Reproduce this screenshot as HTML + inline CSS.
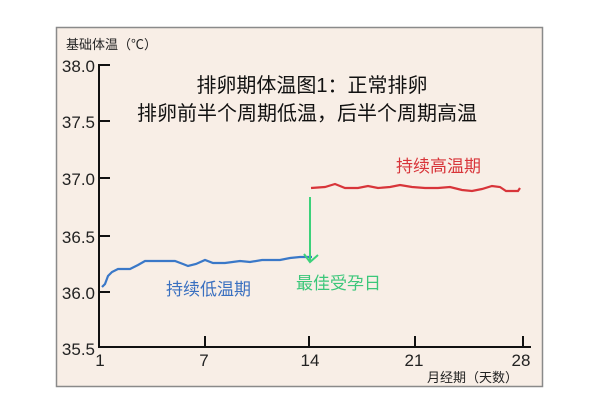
<!DOCTYPE html>
<html><head><meta charset="utf-8"><style>
body{margin:0;background:#fff;}
svg{display:block}
text{font-family:"Liberation Sans","Noto Sans CJK SC",sans-serif;}
</style></head><body>
<svg width="600" height="400" viewBox="0 0 600 400">
<rect x="56.5" y="27.5" width="486" height="359" fill="#f8eee6" stroke="#8a8a8a" stroke-width="1.5"/>
<text x="66" y="49" font-size="13" fill="#222">基础体温（℃）</text>
<g stroke="#111" stroke-width="2" fill="none">
<line x1="99" y1="64" x2="99" y2="348"/>
<line x1="99" y1="347" x2="531" y2="347"/>
<line x1="99" y1="65" x2="110" y2="65"/>
<line x1="99" y1="121" x2="110" y2="121"/>
<line x1="99" y1="178" x2="110" y2="178"/>
<line x1="99" y1="236" x2="110" y2="236"/>
<line x1="99" y1="292" x2="110" y2="292"/>
<line x1="205" y1="336" x2="205" y2="347"/>
<line x1="309" y1="336" x2="309" y2="347"/>
<line x1="415" y1="336" x2="415" y2="347"/>
<line x1="523" y1="336" x2="523" y2="347"/>
</g>
<g font-size="17" fill="#222" text-anchor="end">
<text x="95" y="72">38.0</text>
<text x="95" y="128">37.5</text>
<text x="95" y="185">37.0</text>
<text x="95" y="243">36.5</text>
<text x="95" y="299">36.0</text>
<text x="95" y="355">35.5</text>
</g>
<g font-size="17" fill="#222" text-anchor="middle">
<text x="100" y="366">1</text>
<text x="204" y="366">7</text>
<text x="310" y="366">14</text>
<text x="414" y="366">21</text>
<text x="521" y="366">28</text>
</g>
<text x="518" y="382" font-size="13" fill="#222" text-anchor="end">月经期（天数）</text>
<text x="312" y="92" font-size="20" fill="#111" text-anchor="middle">排卵期体温图1：正常排卵</text>
<text x="307" y="120" font-size="20" fill="#111" text-anchor="middle">排卵前半个周期低温，后半个周期高温</text>
<polyline fill="none" stroke="#3a78c8" stroke-width="2.2" points="102,287 105,284 108,276 112,272 118,269 130,269 138,265 145,261 175,261 183,264 188,266 196,264 205,260 213,263 225,263 240,261 250,262 262,260 280,260 290,258 300,257 312,257"/>
<text x="166" y="295" font-size="17" fill="#3a70c0">持续低温期</text>
<polyline fill="none" stroke="#d8353a" stroke-width="2.2" points="311,188 325,187 335,184 345,188 358,188 368,186 378,188 390,187 400,185 412,187 425,188 438,188 450,187 462,190 472,191 482,189 492,186 500,187 506,191 518,191 520,188"/>
<text x="396" y="172" font-size="17" fill="#d8353a">持续高温期</text>
<g stroke="#3cd17a" stroke-width="2" fill="none">
<line x1="310" y1="197" x2="310" y2="262"/>
<polyline points="304,254 310,262 318,255"/>
</g>
<text x="296" y="289" font-size="17" fill="#3cc77a">最佳受孕日</text>
</svg>
</body></html>
